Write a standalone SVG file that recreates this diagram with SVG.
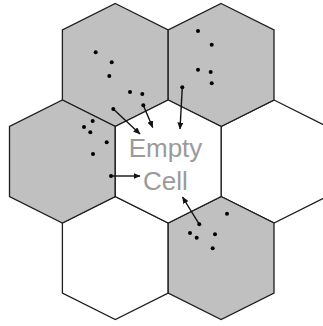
<svg xmlns="http://www.w3.org/2000/svg" width="323" height="326" viewBox="0 0 323 326">
<defs>
<style>
.hex{stroke:#1e1e1e;stroke-width:1.3;stroke-linejoin:miter}
.g{fill:#c0c0c0}
.w{fill:#ffffff}
.dot{fill:#000}
.arr{stroke:#111;stroke-width:1.4;fill:none;marker-end:url(#ah)}
.lbl{font-family:"Liberation Sans",Arial,sans-serif;font-size:26px;fill:#9a9a9a;text-anchor:middle}
</style>
<marker id="ah" markerUnits="userSpaceOnUse" markerWidth="7" markerHeight="6" refX="6.5" refY="3" orient="auto">
<path d="M0,0 L7,3 L0,6 z" fill="#111"/>
</marker>
</defs>
<rect width="323" height="326" fill="#fff"/>
<g id="cell-E"><polygon class="hex w" points="274,100 326.9,126.5 326.9,196.5 274,223 221.1,196.5 221.1,126.5"/></g>
<g id="cell-F"><polygon class="hex w" points="115.3,196.5 168.2,223 168.2,293 115.3,319.5 62.4,293 62.4,223"/></g>
<g id="cell-A"><polygon class="hex g" points="115.3,3.5 168.2,30 168.2,100 115.3,126.5 62.4,100 62.4,30"/></g>
<g id="cell-B"><polygon class="hex g" points="221.1,3.5 274,30 274,100 221.1,126.5 168.2,100 168.2,30"/></g>
<g id="cell-C"><polygon class="hex g" points="62.4,100 115.3,126.5 115.3,196.5 62.4,223 9.5,196.5 9.5,126.5"/></g>
<g id="cell-G"><polygon class="hex g" points="221.1,196.5 274,223 274,293 221.1,319.5 168.2,293 168.2,223"/></g>
<g id="cell-D"><polygon class="hex w" points="168.2,100 221.1,126.5 221.1,196.5 168.2,223 115.3,196.5 115.3,126.5"/>
<text class="lbl" x="165.5" y="157.3">Empty</text>
<text class="lbl" x="165.5" y="190">Cell</text></g>
<g id="connectors">
<line class="arr" x1="113.3" y1="109" x2="140" y2="134"/>
<line class="arr" x1="143.3" y1="105.3" x2="152.7" y2="127.5"/>
<line class="arr" x1="182.3" y1="87.3" x2="180" y2="129"/>
<line class="arr" x1="111" y1="176" x2="140" y2="176"/>
<line class="arr" x1="199.3" y1="224.3" x2="182.5" y2="197"/>
</g>
<g id="particles">
<circle class="dot" cx="95.7" cy="52.3" r="2"/>
<circle class="dot" cx="111.7" cy="62.3" r="2"/>
<circle class="dot" cx="109.3" cy="76" r="2"/>
<circle class="dot" cx="130" cy="92" r="2"/>
<circle class="dot" cx="142.3" cy="94" r="2"/>
<circle class="dot" cx="143.3" cy="105.3" r="2"/>
<circle class="dot" cx="113.3" cy="109" r="2"/>
<circle class="dot" cx="198" cy="31" r="2"/>
<circle class="dot" cx="211.7" cy="44.7" r="2"/>
<circle class="dot" cx="198" cy="69.7" r="2"/>
<circle class="dot" cx="210.7" cy="72" r="2"/>
<circle class="dot" cx="211.7" cy="83.3" r="2"/>
<circle class="dot" cx="182.3" cy="87.3" r="2"/>
<circle class="dot" cx="92.7" cy="121" r="2"/>
<circle class="dot" cx="84" cy="127" r="2"/>
<circle class="dot" cx="90.3" cy="132.3" r="2"/>
<circle class="dot" cx="106.7" cy="142.3" r="2"/>
<circle class="dot" cx="93" cy="154" r="2"/>
<circle class="dot" cx="111" cy="176" r="2"/>
<circle class="dot" cx="199.3" cy="224.3" r="2"/>
<circle class="dot" cx="227" cy="213.7" r="2"/>
<circle class="dot" cx="190" cy="233" r="2"/>
<circle class="dot" cx="196.7" cy="237.7" r="2"/>
<circle class="dot" cx="215" cy="234.3" r="2"/>
<circle class="dot" cx="212.7" cy="248.3" r="2"/>
</g>
</svg>
